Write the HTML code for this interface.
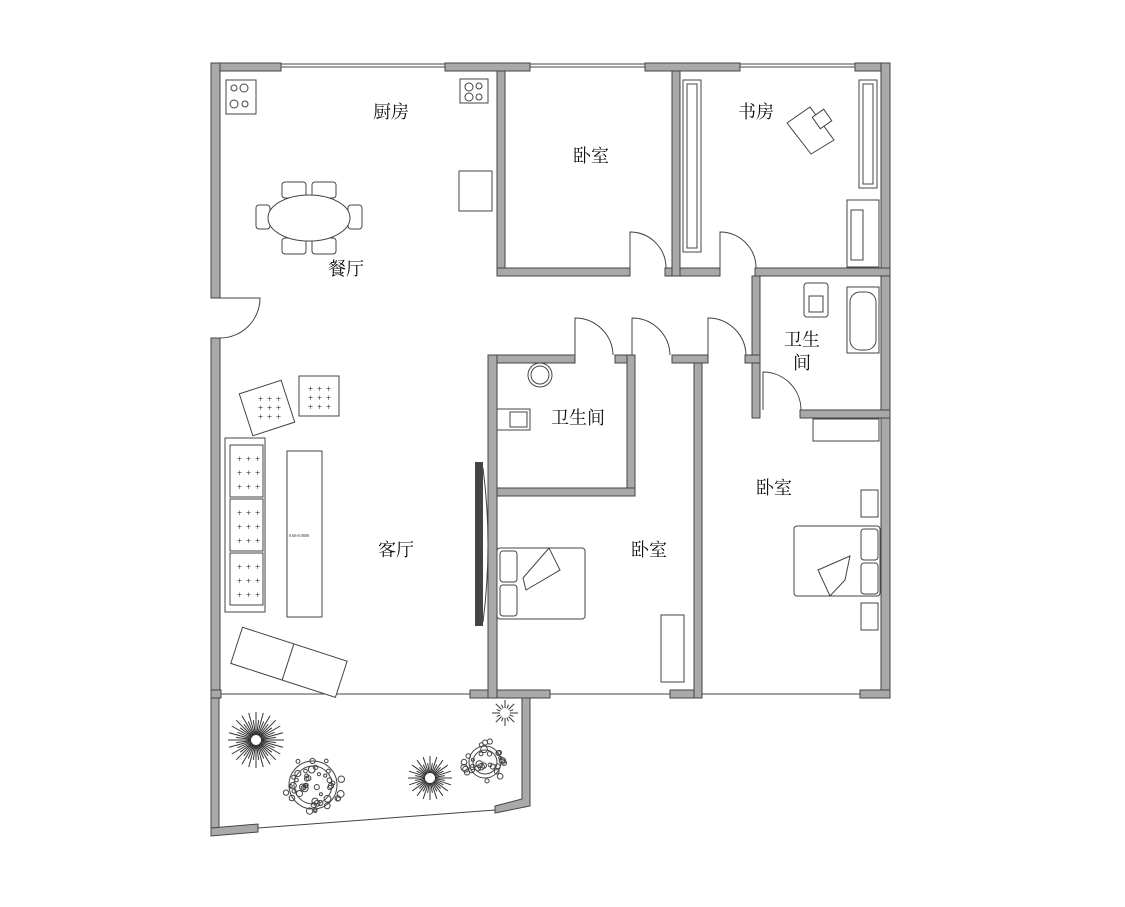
<!DOCTYPE html>
<html><head><meta charset="utf-8"><style>
html,body{margin:0;padding:0;background:#fff;width:1125px;height:907px;overflow:hidden}
svg{display:block}
text{font-family:"Liberation Serif","Noto Serif CJK SC",serif;font-size:18px;fill:#111}
.w{fill:#a9a9a9;stroke:#444;stroke-width:1}
.l{fill:none;stroke:#444;stroke-width:1}
.f{fill:#fff;stroke:#444;stroke-width:1}
</style></head><body>
<svg id="s" width="1125" height="907" viewBox="0 0 1125 907">
<rect class="w" x="211" y="63" width="70" height="8"/>
<rect class="w" x="445" y="63" width="85" height="8"/>
<rect class="w" x="645" y="63" width="95" height="8"/>
<rect class="w" x="855" y="63" width="35" height="8"/>
<line class="l" x1="281" y1="67" x2="445" y2="67"/><line class="l" x1="281" y1="64" x2="445" y2="64"/>
<line class="l" x1="530" y1="67" x2="645" y2="67"/><line class="l" x1="530" y1="64" x2="645" y2="64"/>
<line class="l" x1="740" y1="67" x2="855" y2="67"/><line class="l" x1="740" y1="64" x2="855" y2="64"/>
<rect class="w" x="211" y="63" width="9" height="235"/>
<rect class="w" x="211" y="338" width="9" height="360"/>
<path class="l" d="M220 298 L260 298 A40 40 0 0 1 220 338"/>
<rect class="w" x="881" y="63" width="9" height="635"/>
<rect class="w" x="211" y="690" width="10" height="8"/>
<rect class="w" x="470" y="690" width="80" height="8"/>
<rect class="w" x="670" y="690" width="30" height="8"/>
<rect class="w" x="860" y="690" width="30" height="8"/>
<line class="l" x1="221" y1="694" x2="470" y2="694"/>
<line class="l" x1="550" y1="694" x2="670" y2="694"/>
<line class="l" x1="700" y1="694" x2="860" y2="694"/>
<rect class="w" x="211" y="698" width="8" height="137"/>
<polygon class="w" points="211,828 258,824 258,832 211,836"/>
<polygon class="w" points="495,806 522,799 522,698 530,698 530,806 495,813"/>
<line class="l" x1="258" y1="828" x2="495" y2="810"/>
<rect class="w" x="497" y="71" width="8" height="205"/>
<rect class="w" x="497" y="268" width="133" height="8"/>
<rect class="w" x="665" y="268" width="15" height="8"/>
<rect class="w" x="672" y="71" width="8" height="205"/>
<rect class="w" x="680" y="268" width="40" height="8"/>
<rect class="w" x="755" y="268" width="135" height="8"/>
<path class="l" d="M630 268 L630 232 A36 36 0 0 1 666 268"/>
<path class="l" d="M720 268 L720 232 A36 36 0 0 1 756 268"/>
<rect class="w" x="752" y="276" width="8" height="142"/>
<rect class="w" x="800" y="410" width="90" height="8"/>
<path class="l" d="M763 410 L763 372 A38 38 0 0 1 801 410"/>
<rect class="w" x="488" y="355" width="87" height="8"/>
<rect class="w" x="615" y="355" width="17" height="8"/>
<rect class="w" x="672" y="355" width="36" height="8"/>
<rect class="w" x="745" y="355" width="15" height="8"/>
<path class="l" d="M575 355 L575 318 A38 38 0 0 1 613 355"/>
<path class="l" d="M632 355 L632 318 A38 38 0 0 1 670 355"/>
<path class="l" d="M708 355 L708 318 A38 38 0 0 1 746 355"/>
<rect class="w" x="488" y="355" width="9" height="343"/>
<rect class="w" x="627" y="355" width="8" height="141"/>
<rect class="w" x="497" y="488" width="138" height="8"/>
<rect class="w" x="694" y="363" width="8" height="335"/>
<rect class="f" x="226" y="80" width="30" height="34"/>
<circle class="l" cx="234" cy="88" r="3"/><circle class="l" cx="244" cy="88" r="4"/><circle class="l" cx="234" cy="104" r="4"/><circle class="l" cx="245" cy="104" r="3"/>
<rect class="f" x="460" y="79" width="28" height="24"/>
<circle class="l" cx="469" cy="87" r="4"/><circle class="l" cx="479" cy="86" r="3"/><circle class="l" cx="469" cy="97" r="4"/><circle class="l" cx="479" cy="97" r="3"/>
<rect class="f" x="459" y="171" width="33" height="40"/>
<rect class="f" x="282" y="182" width="24" height="16" rx="3"/><rect class="f" x="312" y="182" width="24" height="16" rx="3"/>
<rect class="f" x="282" y="238" width="24" height="16" rx="3"/><rect class="f" x="312" y="238" width="24" height="16" rx="3"/>
<rect class="f" x="256" y="205" width="14" height="24" rx="3"/><rect class="f" x="348" y="205" width="14" height="24" rx="3"/>
<ellipse class="f" cx="309" cy="218" rx="41" ry="23"/>
<rect class="f" x="683" y="80" width="18" height="172"/><rect class="l" x="687" y="84" width="10" height="164"/>
<rect class="f" x="859" y="80" width="18" height="108"/><rect class="l" x="863" y="84" width="10" height="100"/>
<polygon class="f" points="787,123 810,107 834,140 811,154"/>
<rect class="f" x="815" y="112" width="14" height="14" transform="rotate(-35 822 119)"/>
<rect class="f" x="847" y="200" width="32" height="67"/><rect class="l" x="851" y="210" width="12" height="50"/>
<rect class="f" x="804" y="283" width="24" height="34" rx="3"/><rect class="l" x="809" y="296" width="14" height="16"/>
<rect class="f" x="847" y="287" width="32" height="66"/><rect class="l" x="850" y="292" width="26" height="58" rx="10"/>
<rect class="f" x="813" y="419" width="66" height="22"/>
<circle class="f" cx="540" cy="375" r="12"/><circle class="l" cx="540" cy="375" r="9"/>
<rect class="f" x="497" y="409" width="33" height="21"/><rect class="l" x="510" y="412" width="17" height="15"/>
<rect class="f" x="245" y="386" width="44" height="44" transform="rotate(-18 267 408)"/>
<rect class="f" x="299" y="376" width="40" height="40"/>
<rect class="f" x="225" y="438" width="40" height="174"/>
<rect class="l" x="230" y="445" width="33" height="52"/><rect class="l" x="230" y="499" width="33" height="52"/><rect class="l" x="230" y="553" width="33" height="52"/>
<rect class="f" x="287" y="451" width="35" height="166"/>
<text x="289" y="537" style="font-size:4px">0.60×0.0000</text>
<g transform="rotate(18 288 662)"><rect class="f" x="234" y="643" width="110" height="38"/><line class="l" x1="288" y1="643" x2="288" y2="681"/></g>
<g id="plus"></g>
<rect x="475" y="462" width="8" height="164" fill="#444"/>
<path class="l" d="M483 468 Q493 545 483 622"/>
<rect class="f" x="497" y="548" width="88" height="71" rx="3"/>
<rect class="l" x="500" y="551" width="17" height="31" rx="3"/><rect class="l" x="500" y="585" width="17" height="31" rx="3"/>
<polygon class="l" points="523,578 549,548 560,570 526,590"/>
<rect class="f" x="661" y="615" width="23" height="67"/>
<rect class="f" x="794" y="526" width="86" height="70" rx="3"/>
<rect class="l" x="861" y="529" width="17" height="31" rx="3"/><rect class="l" x="861" y="563" width="17" height="31" rx="3"/>
<polygon class="l" points="818,570 850,556 845,580 830,596"/>
<rect class="f" x="861" y="490" width="17" height="27"/><rect class="f" x="861" y="603" width="17" height="27"/>
<g id="plants"></g>
<circle class="l" cx="313" cy="785" r="24"/><circle class="l" cx="313" cy="785" r="19"/>
<circle class="l" cx="485" cy="762" r="16"/><circle class="l" cx="485" cy="762" r="12"/>
<text x="373" y="118">厨房</text>
<text x="328" y="275">餐厅</text>
<text x="573" y="162">卧室</text>
<text x="738" y="118">书房</text>
<text x="784" y="346">卫生</text>
<text x="793" y="369">间</text>
<text x="551" y="424">卫生间</text>
<text x="378" y="556">客厅</text>
<text x="631" y="556">卧室</text>
<text x="756" y="494">卧室</text>
</svg>
<script>
var ns='http://www.w3.org/2000/svg',g=document.getElementById('plants'),p=document.getElementById('plus');
function star(cx,cy,r1,r2,n){for(var i=0;i<n;i++){var a=i*2*Math.PI/n,r=(i%2?r2:r1);var l=document.createElementNS(ns,'line');l.setAttribute('x1',cx+Math.cos(a)*5);l.setAttribute('y1',cy+Math.sin(a)*5);l.setAttribute('x2',cx+Math.cos(a)*r);l.setAttribute('y2',cy+Math.sin(a)*r);l.setAttribute('stroke','#333');g.appendChild(l);}}
star(256,740,28,20,48);star(430,778,22,15,40);star(505,713,13,9,16);
var seed=7;function rnd(){seed=(seed*9301+49297)%233280;return seed/233280;}
function dots(cx,cy,r,n){for(var i=0;i<n;i++){var a=rnd()*6.28,d=Math.sqrt(rnd())*r;var c=document.createElementNS(ns,'circle');c.setAttribute('cx',cx+Math.cos(a)*d);c.setAttribute('cy',cy+Math.sin(a)*d);c.setAttribute('r',1.5+rnd()*2);c.setAttribute('fill','none');c.setAttribute('stroke','#444');g.appendChild(c);}}
dots(313,785,30,45);dots(485,762,22,30);
function grid(x,y,dx,dy){for(var i=0;i<3;i++)for(var j=0;j<3;j++){var t=document.createElementNS(ns,'text');t.setAttribute('x',x+i*dx);t.setAttribute('y',y+j*dy);t.setAttribute('style','font-size:9px');t.textContent='+';p.appendChild(t);}}
grid(237,462,9,14);grid(237,516,9,14);grid(237,570,9,14);grid(308,392,9,9);grid(258,402,9,9);
</script>
</body></html>
